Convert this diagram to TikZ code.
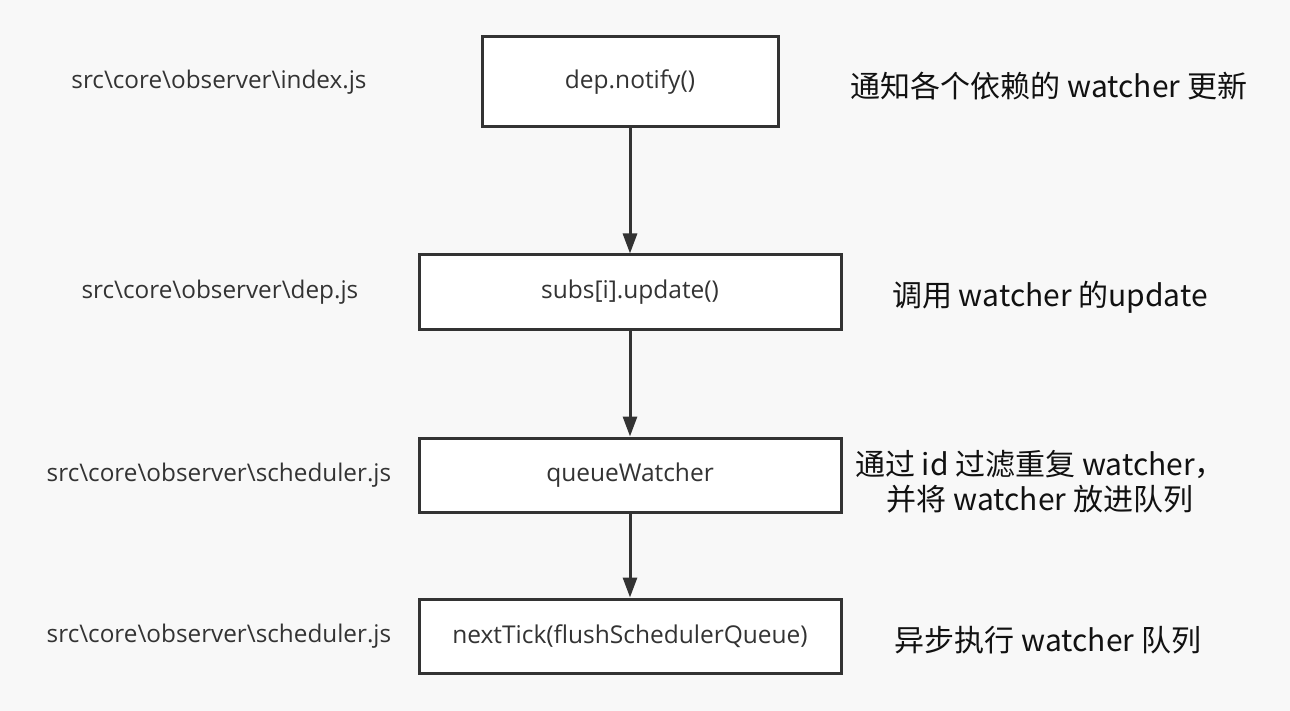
\documentclass[tikz,border=0pt]{standalone}
\usepackage{fontspec}
\setmainfont{Open Sans}
\newfontfamily\cjk{Noto Sans CJK SC}
\usetikzlibrary{arrows.meta}
\definecolor{bg}{HTML}{F8F8F8}
\definecolor{ink}{HTML}{333333}
\definecolor{txt}{HTML}{111111}
\tikzset{
  stepbox/.style={draw=ink, line width=3pt, fill=white, inner sep=0pt, text=ink, font=\fontsize{24.5}{28}\selectfont},
  pathlabel/.style={text=ink, font=\fontsize{24.3}{28}\selectfont, anchor=center},
  notelabel/.style={text=txt, font=\cjk\fontsize{30}{35}\selectfont, align=center, anchor=center},
  flow/.style={draw=ink, line width=3pt, -{Triangle[width=14pt,length=20pt]}}
}
\begin{document}
\begin{tikzpicture}[x=1pt,y=-1pt]
\useasboundingbox[fill=bg] (0,0) rectangle (1290,711);
\node[stepbox, minimum width=296pt, minimum height=90pt] (n1) at (630,82) {dep.notify()};
\node[stepbox, minimum width=422pt, minimum height=74pt] (n2) at (630,292) {subs[i].update()};
\node[stepbox, minimum width=422pt, minimum height=74pt] (n3) at (630,475) {queueWatcher};
\node[stepbox, minimum width=422pt, minimum height=74pt] (n4) at (630,636) {nextTick(flushSchedulerQueue)};
\node[pathlabel] (p1) at (219,82) {src\textbackslash core\textbackslash observer\textbackslash index.js};
\node[pathlabel] (p2) at (220,292) {src\textbackslash core\textbackslash observer\textbackslash dep.js};
\node[pathlabel] (p3) at (219,475) {src\textbackslash core\textbackslash observer\textbackslash scheduler.js};
\node[pathlabel] (p4) at (219,636) {src\textbackslash core\textbackslash observer\textbackslash scheduler.js};
\node[notelabel] (t1) at (1049,86) {通知各个依赖的 watcher 更新};
\node[notelabel] (t2) at (1050,297) {调用 watcher 的update};
\node[notelabel] (t3) at (1040,482) {通过 id 过滤重复 watcher，\\ 并将 watcher 放进队列};
\node[notelabel] (t4) at (1048,640) {异步执行 watcher 队列};
\draw[flow] (n1.south) -- (n2.north);
\draw[flow] (n2.south) -- (n3.north);
\draw[flow] (n3.south) -- (n4.north);
\end{tikzpicture}
\end{document}
